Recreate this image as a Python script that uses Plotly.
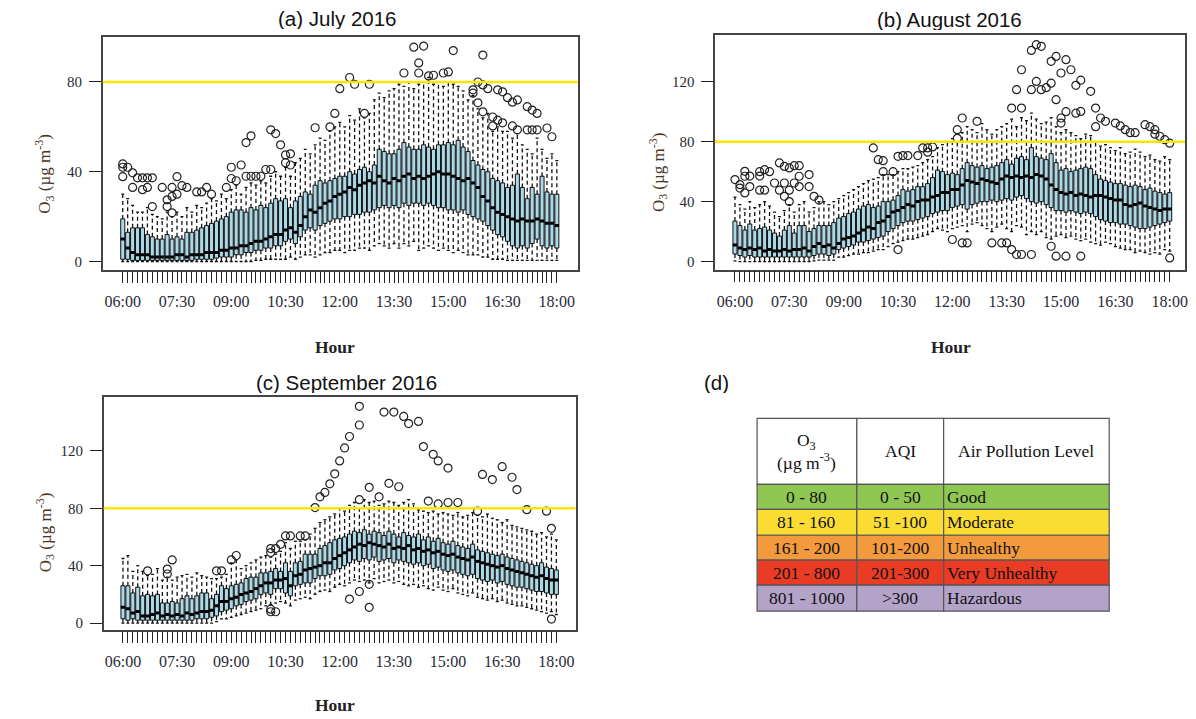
import plotly.graph_objects as go

# ---------------- data ----------------
N_BOXES = 89
TICK_LABELS = ["06:00", "07:30", "09:00", "10:30", "12:00", "13:30", "15:00", "16:30", "18:00"]
LABEL_STEP = 11
THRESHOLD = 80

# (a) July 2016
JUL_LW = [0, 0, 0, 0, 0, 0, 0, 0, 0, 0, 0,
          0, 0, 0, 0, 0, 0, 0, 0, 0, 0, 0,
          0, 0, 0, 0, 0, 0.5, 0.5, 1, 1, 1, 1,
          1, 2, 1, 2, 3, 3, 2, 3, 4, 4, 5,
          5, 4, 5, 5, 6, 6, 5, 7, 8, 7, 6,
          8, 6, 8, 7, 9, 5, 6, 7, 6, 5, 6,
          5, 4, 5, 4, 3, 3, 3, 2, 2, 1, 1,
          1, 0.5, 0.5, 0.5, 0.5, 0.5, 0.5, 0.5, 0.5, 0.5, 0.5, 0.5]
JUL_Q1 = [1, 1, 0.5, 0.5, 0.5, 0.5, 0.5, 0.5, 0.5, 0.5, 0.5,
          0.5, 0.5, 0.5, 0.5, 1, 1, 1, 1, 1.5, 2, 2,
          2, 3, 3, 4, 4, 5, 5, 6, 6, 7, 7,
          9, 10, 8, 11, 14, 15, 14, 16, 17, 18, 19,
          19, 20, 20, 21, 21, 22, 22, 23, 24, 25, 24,
          25, 24, 26, 25, 26, 26, 25, 26, 25, 24, 24,
          23, 23, 22, 23, 21, 20, 19, 18, 16, 14, 12,
          11, 9, 7, 6, 7, 6, 8, 10, 7, 6, 7, 6]
JUL_MED = [10, 6, 4, 3, 3, 3, 2, 2, 2, 2, 2,
           3, 3, 2, 3, 3, 3, 4, 4, 4, 5, 5,
           6, 6, 7, 7, 8, 9, 9, 10, 11, 12, 12,
           14, 15, 13, 16, 20, 23, 22, 24, 26, 27, 29,
           30, 31, 33, 32, 34, 35, 36, 35, 38, 36, 35,
           37, 36, 38, 39, 37, 38, 37, 38, 39, 40, 39,
           39, 38, 37, 36, 37, 35, 33, 29, 27, 24, 22,
           21, 20, 19, 18, 19, 18, 18, 19, 18, 17, 17, 16]
JUL_Q3 = [19, 13, 15, 15, 15, 12, 11, 10, 10, 12, 10,
          11, 10, 13, 13, 14, 15, 16, 17, 18, 19, 20,
          22, 23, 23, 22, 24, 23, 25, 24, 26, 28, 27,
          28, 24, 27, 29, 31, 30, 34, 36, 35, 36, 37,
          38, 38, 40, 39, 41, 42, 40, 43, 50, 49, 48,
          48, 50, 53, 51, 50, 50, 52, 51, 50, 52, 52,
          53, 52, 54, 51, 49, 45, 43, 41, 40, 37, 36,
          35, 33, 34, 39, 33, 28, 33, 30, 38, 31, 30, 30]
JUL_UW = [30, 28, 25, 22, 22, 24, 21, 20, 19, 22, 20,
          22, 20, 24, 22, 25, 24, 26, 28, 27, 30, 28,
          32, 34, 30, 33, 35, 34, 36, 35, 38, 40, 38,
          42, 38, 44, 46, 50, 48, 52, 55, 54, 58, 60,
          62, 60, 65, 63, 68, 64, 66, 72, 75, 73, 76,
          77, 79, 78, 80, 77, 79, 80, 82, 79, 80, 78,
          80, 79, 78, 76, 72, 74, 68, 64, 66, 58, 60,
          58, 58, 55, 57, 52, 50, 48, 55, 50, 46, 48, 45]
JUL_OUT_I = [0, 0, 0, 1, 2, 2, 3, 4, 4, 5, 5, 6, 6, 8, 9, 9, 10, 10, 10, 11, 11, 12, 13, 15, 16, 17,
             18, 21, 22, 22, 23, 24, 25, 25, 26, 26, 27, 28, 29, 30, 30, 31, 32, 33, 33, 34, 34,
             39, 42, 43, 44, 46, 47, 49, 50, 57, 59, 60, 60, 61, 62, 63, 65, 66, 67,
             71, 71, 72, 72, 73, 73, 73, 74, 75, 75, 76, 76, 77, 77, 78, 79, 79, 80, 80,
             82, 82, 83, 83, 84, 84, 86, 87]
JUL_OUT_V = [43.5, 42, 37.8, 42, 39.5, 33, 37.3, 37.3, 32, 37.3, 33, 37.3, 24.5, 33, 27.5, 24.5, 33, 29, 21.7, 37.8, 30, 33.8, 33, 31, 31, 33,
             30, 33, 42, 37, 36, 43, 38, 53, 56, 38, 38, 38, 41, 41, 58.7, 57, 52, 47.5, 44, 48, 43,
             59.6, 60, 66, 77, 82, 79, 66, 79, 84, 95.5, 88.5, 84, 96, 82.7, 83, 84, 84.5, 94,
             76.5, 75, 70.7, 80, 92, 78.7, 66.7, 77, 64.4, 60.4, 76.5, 63, 75.6, 61.8, 73, 71, 60.4, 72, 58.7,
             69, 58.7, 67.5, 58.7, 66, 58.7, 59.5, 55.6]

# (b) August 2016
AUG_LW = [0.5, 0, 0, 0, 0, 0, 0, 0, 0, 0, 0,
          0, 0, 0, 0, 0, 0.5, 1, 1, 1, 1, 3,
          3, 4, 5, 5, 6, 6, 7, 8, 8, 10, 12,
          13, 14, 15, 15, 16, 17, 18, 20, 22, 21, 20,
          22, 23, 24, 20, 25, 26, 24, 22, 20, 23, 25,
          22, 20, 24, 23, 18, 20, 18, 20, 16, 15, 17,
          18, 16, 17, 15, 14, 15, 13, 12, 11, 13, 12,
          10, 9, 8, 8, 6, 7, 6, 5, 6, 5, 8, 7]
AUG_Q1 = [5, 4, 3, 4, 3, 3, 3, 3, 3, 3, 3,
          3, 3, 3, 3, 3, 4, 5, 5, 4, 5, 8,
          9, 10, 11, 13, 13, 14, 15, 16, 17, 20, 22,
          24, 26, 27, 27, 28, 29, 30, 32, 33, 34, 34,
          36, 37, 38, 35, 38, 39, 40, 40, 41, 40, 41,
          42, 41, 43, 44, 42, 40, 39, 40, 38, 36, 34,
          34, 33, 34, 33, 32, 33, 32, 30, 28, 27, 26,
          26, 25, 25, 24, 23, 22, 22, 23, 24, 25, 26, 27]
AUG_MED = [11, 9, 8, 9, 8, 9, 7, 8, 7, 7, 8,
           7, 8, 8, 9, 7, 10, 12, 10, 11, 9, 12,
           15, 16, 17, 19, 21, 23, 22, 26, 27, 30, 33,
           34, 36, 38, 37, 40, 41, 41, 43, 44, 46, 46,
           48, 48, 51, 54, 53, 52, 55, 54, 53, 52, 55,
           57, 56, 57, 56, 57, 56, 58, 57, 55, 51, 48,
           46, 45, 46, 44, 45, 44, 43, 44, 44, 43, 42,
           41, 41, 38, 37, 38, 39, 37, 36, 35, 34, 35, 35]
AUG_Q3 = [27, 24, 21, 25, 21, 22, 23, 21, 19, 17, 21,
          24, 19, 24, 24, 20, 22, 24, 24, 24, 26, 29,
          30, 32, 33, 35, 37, 38, 36, 37, 40, 40, 41,
          44, 48, 47, 48, 50, 50, 52, 56, 61, 60, 58,
          59, 58, 62, 66, 64, 63, 64, 62, 63, 64, 66,
          68, 65, 69, 70, 68, 76, 70, 69, 68, 72, 66,
          61, 62, 60, 61, 62, 63, 62, 58, 55, 54, 53,
          52, 52, 51, 50, 51, 50, 48, 49, 47, 46, 45, 46]
AUG_UW = [43, 38, 35, 40, 36, 38, 40, 37, 33, 30, 34,
          38, 33, 38, 40, 33, 36, 40, 40, 38, 40, 42,
          44, 46, 48, 50, 52, 54, 55, 56, 58, 58, 58,
          60, 62, 62, 63, 64, 66, 68, 70, 76, 78, 80,
          82, 80, 86, 90, 88, 86, 92, 88, 85, 88, 90,
          92, 95, 90, 96, 94, 99, 95, 92, 93, 96, 90,
          86, 88, 86, 84, 82, 85, 84, 80, 77, 78, 76,
          74, 76, 72, 73, 75, 73, 70, 71, 68, 67, 70, 68]
AUG_OUT_I = [0, 1, 1, 2, 2, 2, 3, 3, 5, 5, 5, 6, 6, 7, 8, 9, 9, 10, 10, 10, 11, 11, 11, 12, 12, 13, 13, 13,
             15, 15, 16, 17, 28, 29, 30, 30, 32, 33, 34, 35, 37, 38, 39, 39, 40, 45, 45, 46, 49,
             33, 44, 46, 47, 52, 54, 55, 56, 57, 58, 60, 64, 65, 67, 70, 88,
             56, 57, 58, 58, 60, 60, 61, 61, 62, 62, 63, 64, 64, 65, 65, 66, 66, 66, 67, 67, 68,
             69, 69, 70, 70, 72, 73, 73, 74, 75, 77, 78, 79, 80, 81, 83, 84, 85, 85, 86, 87, 88]
AUG_OUT_V = [54.7, 51.3, 49, 60.2, 56.9, 45.8, 57, 50, 57, 60, 47.6, 61.3, 47.6, 60, 52.4, 65.8, 47.6, 63.5, 52.4, 43.5, 62.5, 40, 47.6, 64, 52.4, 64, 56.9, 50,
             58, 50, 43.5, 41, 75.8, 68, 60, 67.3, 60, 70.2, 70.7, 70.7, 70.7, 75.8, 75.8, 73, 76.5, 88, 82.2, 95.8, 93.6,
             8, 14.7, 12.4, 12.4, 12.4, 12.4, 12.4, 8, 4.7, 4.7, 4.7, 10.2, 3.6, 3.6, 3.6, 2.4,
             102.4, 114.7, 102.4, 128, 140.9, 114.7, 120.2, 144.7, 143.6, 114.7, 116, 133.6, 119, 108, 136.9, 125.8, 95.8, 92.4, 134.7, 100, 128,
             117.6, 99, 100.2, 121, 113.6, 102.4, 90, 95.8, 93.6, 92.4, 90.5, 88, 86, 86, 91.3, 90, 88, 85, 83.6, 81.3, 79]

# (c) September 2016
SEP_LW = [0, 0, 0, 0, 0, 0, 0, 0, 0, 0, 0,
          0, 0, 0, 0, 0, 0, 0, 0, 1, 3, 3,
          4, 5, 6, 7, 8, 9, 10, 12, 13, 14, 15,
          14, 12, 16, 17, 18, 17, 20, 22, 23, 22, 25,
          27, 26, 28, 30, 29, 30, 28, 31, 28, 29, 30,
          28, 29, 27, 26, 27, 25, 26, 24, 23, 25, 23,
          22, 24, 21, 20, 19, 21, 18, 17, 16, 17, 15,
          16, 14, 13, 12, 12, 11, 10, 9, 8, 7, 8, 6]
SEP_Q1 = [3, 2, 3, 2, 2, 2, 2, 2, 2, 2, 2,
          2, 2, 2, 2, 3, 3, 3, 4, 5, 8, 9,
          10, 12, 13, 15, 16, 17, 20, 21, 20, 24, 24,
          21, 19, 26, 27, 28, 28, 31, 33, 33, 34, 37,
          38, 40, 42, 44, 43, 45, 44, 46, 43, 44, 45,
          42, 44, 43, 42, 41, 42, 40, 41, 38, 39, 37,
          36, 37, 35, 34, 33, 34, 31, 30, 29, 30, 28,
          29, 27, 26, 25, 25, 24, 23, 22, 22, 21, 20, 20]
SEP_MED = [11, 10, 7, 8, 5, 5, 6, 7, 5, 6, 5,
           6, 5, 7, 6, 7, 8, 8, 9, 12, 15, 15,
           17, 18, 20, 21, 22, 24, 26, 28, 28, 30, 30,
           31, 26, 33, 34, 37, 38, 39, 40, 42, 42, 45,
           47, 49, 51, 53, 55, 54, 56, 55, 54, 53, 55,
           52, 53, 52, 54, 51, 52, 50, 51, 49, 50, 48,
           47, 48, 46, 45, 44, 46, 43, 42, 41, 40, 39,
           40, 38, 37, 36, 35, 34, 33, 32, 33, 31, 30, 30]
SEP_Q3 = [26, 26, 21, 25, 19, 20, 19, 20, 14, 14, 15,
          14, 17, 19, 17, 19, 21, 21, 17, 20, 26, 24,
          26, 27, 28, 31, 32, 32, 35, 35, 36, 38, 36,
          42, 36, 42, 43, 48, 48, 48, 52, 54, 56, 58,
          59, 60, 62, 64, 63, 65, 62, 64, 63, 61, 64,
          62, 60, 63, 61, 60, 62, 58, 60, 57, 59, 56,
          55, 57, 54, 53, 52, 55, 51, 50, 49, 48, 47,
          48, 46, 45, 44, 43, 42, 41, 40, 42, 39, 38, 37]
SEP_UW = [45, 47, 36, 40, 36, 33, 34, 38, 30, 32, 30,
          32, 33, 34, 32, 35, 33, 32, 31, 31, 32, 34,
          42, 44, 38, 40, 42, 44, 46, 47, 46, 48, 50,
          56, 52, 57, 57, 58, 62, 66, 70, 72, 74, 76,
          80, 78, 82, 84, 80, 86, 84, 85, 82, 83, 85,
          84, 82, 84, 86, 83, 79, 78, 77, 78, 76, 77,
          76, 75, 77, 74, 75, 77, 75, 74, 76, 73, 72,
          70, 72, 68, 67, 66, 65, 64, 62, 63, 60, 62, 58]
SEP_OUT_I = [5, 9, 9, 10, 19, 20, 22, 23, 30, 30, 31, 32, 33, 34, 36, 37, 30, 31, 30,
             39, 40, 41, 42, 43, 44, 45, 46, 48, 48, 48, 50, 52, 53, 54, 55, 56, 57, 58, 60, 61,
             62, 63, 64, 64, 66, 66, 68, 72, 73, 75, 77, 79, 80, 82, 86, 87, 87, 48, 50, 46, 50]
SEP_OUT_V = [36.4, 37.6, 34.2, 44, 36.4, 36.4, 44, 47.1, 49.1, 51.9, 51.9, 54.9, 60.7, 60.7, 60.7, 60.7, 7.9, 7.9, 9.7,
             80.5, 88, 91, 97, 104, 113, 122, 130, 138, 151, 86, 94.6, 88, 147, 97.4, 147, 95, 144, 139, 140.5, 123,
             85, 117.6, 113, 83, 108, 84, 84, 78, 103.6, 100, 109, 101.6, 93, 79, 78, 66, 2.8, 22, 27, 16.7, 11]

# (d) AQI table
AQI_O3 = ["0 - 80", "81 - 160", "161 - 200", "201 - 800", "801 - 1000"]
AQI_INDEX = ["0 - 50", "51 -100", "101-200", "201-300", ">300"]
AQI_LEVEL = ["Good", "Moderate", "Unhealthy", "Very Unhealthy", "Hazardous"]
AQI_COLORS = ["#8fc752", "#fbdc32", "#f39a3c", "#ea3b25", "#b4a3c9"]

# ---------------- figure ----------------
# the page body has an 8px margin, so the figure starts 8px in from the window corner
OFF = 8
W, H = 1188, 711
def px(x):
    return (x - OFF) / W
def py(y):
    return 1 - (y - OFF) / H

SERIF = "Liberation Serif, Times New Roman, serif"
SANS = "Liberation Sans, Arial, sans-serif"
TXT = "#2a2a36"
FRAME = "#444444"

fig = go.Figure()

panels = [
    ("", JUL_LW, JUL_Q1, JUL_MED, JUL_Q3, JUL_UW, JUL_OUT_I, JUL_OUT_V,
     (103, 579), (37.5, 270.5), (-4.05, 92.2), (-3.84, 99.84), [0, 40, 80]),
    ("2", AUG_LW, AUG_Q1, AUG_MED, AUG_Q3, AUG_UW, AUG_OUT_I, AUG_OUT_V,
     (717, 1188), (35, 270), (-4.0, 91.1), (-5.4, 151.2), [0, 40, 80, 120]),
    ("3", SEP_LW, SEP_Q1, SEP_MED, SEP_Q3, SEP_UW, SEP_OUT_I, SEP_OUT_V,
     (104, 577), (398, 631), (-3.9, 91.9), (-4.9, 157.2), [0, 40, 80, 120]),
]

xs = list(range(N_BOXES))
major_vals = [i for i in xs if i % LABEL_STEP == 0]
major_text = [TICK_LABELS[i // LABEL_STEP] for i in major_vals]

for sfx, lw, q1, med, q3, uw, oi, ov, xd, yd, xr, yr, yt in panels:
    xa = "x" + sfx
    ya = "y" + sfx
    # whiskers (dashed)
    wx, wy = [], []
    for i in xs:
        wx += [i, i, None, i, i, None]
        wy += [q3[i], uw[i], None, q1[i], lw[i], None]
    fig.add_trace(go.Scatter(x=wx, y=wy, mode="lines", xaxis=xa, yaxis=ya,
                             line=dict(color="#111", width=1.3, dash="4px,3px"),
                             hoverinfo="skip", showlegend=False))
    # staples
    sx, sy = [], []
    for i in xs:
        sx += [i - 0.3, i + 0.3, None, i - 0.3, i + 0.3, None]
        sy += [uw[i], uw[i], None, lw[i], lw[i], None]
    fig.add_trace(go.Scatter(x=sx, y=sy, mode="lines", xaxis=xa, yaxis=ya,
                             line=dict(color="#111", width=1.3),
                             hoverinfo="skip", showlegend=False))
    # boxes
    fig.add_trace(go.Box(x=xs, q1=q1, median=med, q3=q3, lowerfence=q1, upperfence=q3,
                         xaxis=xa, yaxis=ya, width=0.82, whiskerwidth=0,
                         fillcolor="#add8e6", line=dict(color="#111", width=1),
                         boxpoints=False, hoverinfo="skip", showlegend=False))
    # thick medians
    mx, my = [], []
    for i in xs:
        mx += [i - 0.45, i + 0.45, None]
        my += [med[i], med[i], None]
    fig.add_trace(go.Scatter(x=mx, y=my, mode="lines", xaxis=xa, yaxis=ya,
                             line=dict(color="#000", width=3),
                             hoverinfo="skip", showlegend=False))
    # outliers
    fig.add_trace(go.Scatter(x=oi, y=ov, mode="markers", xaxis=xa, yaxis=ya,
                             marker=dict(symbol="circle-open", size=8, color="#222",
                                         line=dict(width=1.2, color="#222")),
                             hoverinfo="skip", showlegend=False))
    # threshold line
    fig.add_shape(type="line", xref=xa + " domain", yref=ya, x0=0, x1=1,
                  y0=THRESHOLD, y1=THRESHOLD, line=dict(color="#ffe600", width=2.5), layer="above")

    xkey = "xaxis" + sfx
    ykey = "yaxis" + sfx
    fig.update_layout(**{
        xkey: dict(domain=[px(xd[0]), px(xd[1])], range=list(xr), anchor=ya,
                   tickmode="array", tickvals=major_vals, ticktext=major_text,
                   ticks="outside", ticklen=11, tickwidth=1.2, tickcolor="#222",
                   minor=dict(tickmode="array", tickvals=xs, ticks="outside", ticklen=11,
                              tickwidth=1.2, tickcolor="#222", showgrid=False),
                   ticklabelstandoff=5, ticklabeloverflow="allow",
                   showline=True, mirror=True, linecolor=FRAME, linewidth=1.5,
                   showgrid=False, zeroline=False,
                   tickfont=dict(family=SERIF, size=16, color=TXT)),
        ykey: dict(domain=[py(yd[1]), py(yd[0])], range=list(yr), anchor=xa,
                   tickmode="array", tickvals=yt,
                   ticks="outside", ticklen=12, tickwidth=1.2, tickcolor="#222",
                   ticklabelstandoff=4,
                   showline=True, mirror=True, linecolor=FRAME, linewidth=1.5,
                   showgrid=False, zeroline=False,
                   tickfont=dict(family=SERIF, size=15, color=TXT)),
    })

annotations = []
for text, x, y in [("(a) July 2016", 338, 18), ("(b) August 2016", 952, 19),
                   ("(c) September 2016", 347, 383), ("(d)", 718, 383)]:
    annotations.append(dict(text=text, x=px(x), y=py(y), xref="paper", yref="paper",
                            showarrow=False, xanchor="center", yanchor="middle", height=22,
                            font=dict(family=SANS, size=20.5, color="#111")))
for x, y in [(336, 347), (953, 347), (336, 706)]:
    annotations.append(dict(text="<b>Hour</b>", x=px(x), y=py(y), xref="paper", yref="paper",
                            showarrow=False, xanchor="center", yanchor="middle", height=18,
                            font=dict(family=SERIF, size=17.5, color="#222")))
for x, y in [(45, 174), (660, 172), (45, 533)]:
    annotations.append(dict(text="O<sub>3</sub> (µg m<sup>-3</sup>)", x=px(x), y=py(y),
                            xref="paper", yref="paper", showarrow=False, textangle=-90,
                            xanchor="center", yanchor="middle",
                            font=dict(family=SERIF, size=17, color="#4a3422")))

# table (d)
col_x = [759, 859, 946, 1112]
row_y = [419, 485, 510, 536, 561, 586, 612]
shapes = []
for r in range(6):
    for c in range(3):
        fill = "white" if r == 0 else AQI_COLORS[r - 1]
        shapes.append(dict(type="rect", xref="paper", yref="paper",
                           x0=px(col_x[c]), x1=px(col_x[c + 1]),
                           y0=py(row_y[r + 1]), y1=py(row_y[r]),
                           fillcolor=fill, line=dict(color="#555", width=1.2), layer="below"))
hdr = ["O<sub>3</sub><br>(µg m<sup>-3</sup>)", "AQI", "Air Pollution Level"]
for c, t in enumerate(hdr):
    annotations.append(dict(text=t, x=px((col_x[c] + col_x[c + 1]) / 2), y=py((row_y[0] + row_y[1]) / 2),
                            xref="paper", yref="paper", showarrow=False,
                            xanchor="center", yanchor="middle", align="center",
                            font=dict(family=SERIF, size=17.5, color="#111")))
for r in range(5):
    yc = py((row_y[r + 1] + row_y[r + 2]) / 2)
    annotations.append(dict(text=AQI_O3[r], x=px((col_x[0] + col_x[1]) / 2), y=yc,
                            xref="paper", yref="paper", showarrow=False, xanchor="center",
                            yanchor="middle", font=dict(family=SERIF, size=17.5, color="#111")))
    annotations.append(dict(text=AQI_INDEX[r], x=px((col_x[1] + col_x[2]) / 2), y=yc,
                            xref="paper", yref="paper", showarrow=False, xanchor="center",
                            yanchor="middle", font=dict(family=SERIF, size=17.5, color="#111")))
    annotations.append(dict(text=AQI_LEVEL[r], x=px(col_x[2] + 1), y=yc,
                            xref="paper", yref="paper", showarrow=False, xanchor="left",
                            yanchor="middle", font=dict(family=SERIF, size=17.5, color="#111")))

fig.update_layout(width=W, height=H, margin=dict(l=0, r=0, t=0, b=0),
                  paper_bgcolor="white", plot_bgcolor="white",
                  annotations=annotations, shapes=list(fig.layout.shapes) + shapes,
                  showlegend=False)

fig.write_html("out.html")
